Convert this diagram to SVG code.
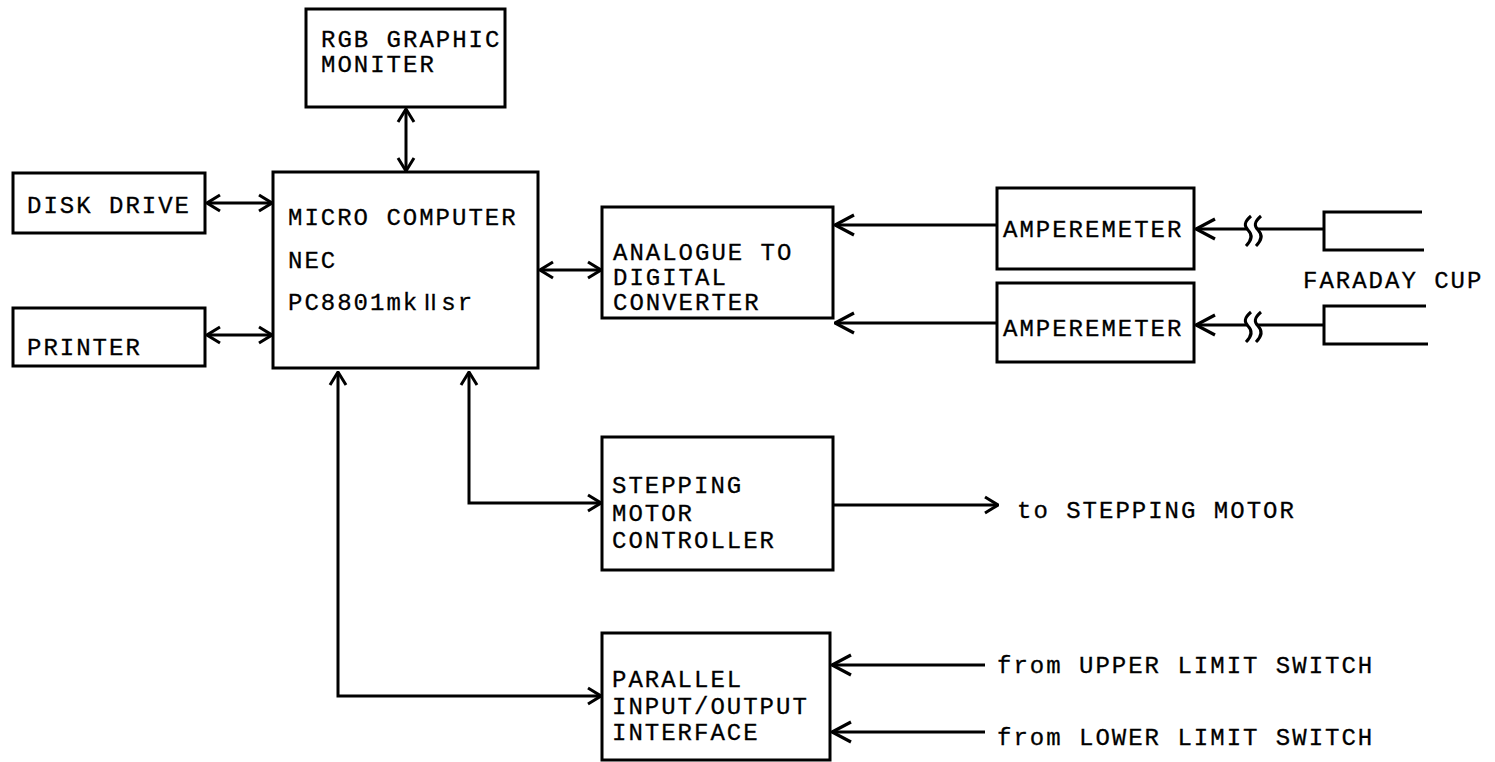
<svg xmlns="http://www.w3.org/2000/svg" width="1495" height="762" viewBox="0 0 1495 762">
<style>
.box{fill:#fff;stroke:#000;stroke-width:3}
.t{font-family:"Liberation Mono","DejaVu Sans Mono","Noto Sans CJK JP",monospace;font-size:24px;letter-spacing:2px;fill:#000;stroke:#000;stroke-width:0.3}
.r{font-family:"Noto Sans CJK JP","DejaVu Sans",sans-serif;font-size:22px;letter-spacing:0}
.c{fill:none;stroke:#000;stroke-width:3}
</style>
<defs>
<marker id="a" viewBox="0 0 16 20" refX="15" refY="10" markerWidth="16" markerHeight="20" markerUnits="userSpaceOnUse" orient="auto-start-reverse">
<path d="M2,2 L15,10 L2,18" fill="none" stroke="#000" stroke-width="3"/>
</marker>
<marker id="b" viewBox="0 0 22 24" refX="21" refY="12" markerWidth="22" markerHeight="24" markerUnits="userSpaceOnUse" orient="auto-start-reverse">
<path d="M2,2 L21,12 L2,22" fill="none" stroke="#000" stroke-width="3.2"/>
</marker>
</defs>

<g id="connectors">
<line class="c" x1="406" y1="109" x2="406" y2="171" marker-start="url(#a)" marker-end="url(#a)"/>
<line class="c" x1="207" y1="203" x2="272" y2="203" marker-start="url(#a)" marker-end="url(#a)"/>
<line class="c" x1="207" y1="335" x2="272" y2="335" marker-start="url(#a)" marker-end="url(#a)"/>
<line class="c" x1="540" y1="270" x2="601" y2="270" marker-start="url(#a)" marker-end="url(#a)"/>
<line class="c" x1="997" y1="225" x2="835" y2="225" marker-end="url(#b)"/>
<line class="c" x1="997" y1="323" x2="835" y2="323" marker-end="url(#b)"/>
<line class="c" x1="1247" y1="229" x2="1196" y2="229" marker-end="url(#b)"/>
<line class="c" x1="1258" y1="229" x2="1324" y2="229"/>
<line class="c" x1="1247" y1="325" x2="1196" y2="325" marker-end="url(#b)"/>
<line class="c" x1="1258" y1="325" x2="1324" y2="325"/>
<path class="c" d="M1251,216 C1244,222 1244,226 1248,230 C1253,235 1252,240 1246,246"/>
<path class="c" d="M1261,216 C1254,222 1254,226 1258,230 C1263,235 1262,240 1256,246"/>
<path class="c" d="M1251,312 C1244,318 1244,322 1248,326 C1253,331 1252,336 1246,342"/>
<path class="c" d="M1261,312 C1254,318 1254,322 1258,326 C1263,331 1262,336 1256,342"/>
<path class="c" d="M338,372 V696 H601" marker-start="url(#a)" marker-end="url(#a)"/>
<path class="c" d="M469,372 V503 H601" marker-start="url(#a)" marker-end="url(#a)"/>
<line class="c" x1="833" y1="505" x2="998" y2="505" marker-end="url(#a)"/>
<line class="c" x1="985" y1="665" x2="832" y2="665" marker-end="url(#b)"/>
<line class="c" x1="985" y1="732" x2="832" y2="732" marker-end="url(#b)"/>
</g>

<g id="rgb-monitor">
<rect class="box" x="306" y="9" width="199" height="98"/>
<text class="t" x="321" y="47">RGB GRAPHIC</text>
<text class="t" x="321" y="72">MONITER</text>
</g>
<g id="disk-drive">
<rect class="box" x="13" y="173" width="192" height="60"/>
<text class="t" x="27" y="213">DISK DRIVE</text>
</g>
<g id="printer">
<rect class="box" x="13" y="308" width="192" height="58"/>
<text class="t" x="27" y="355">PRINTER</text>
</g>
<g id="micro-computer">
<rect class="box" x="273" y="172" width="265" height="196"/>
<text class="t" x="288" y="225">MICRO COMPUTER</text>
<text class="t" x="288" y="268">NEC</text>
<text class="t" x="288" y="310">PC8801mk<tspan class="r">Ⅱ</tspan>sr</text>
</g>
<g id="adc">
<rect class="box" x="602" y="207" width="231" height="111"/>
<text class="t" x="613" y="260">ANALOGUE TO</text>
<text class="t" x="613" y="285">DIGITAL</text>
<text class="t" x="613" y="310">CONVERTER</text>
</g>
<g id="amperemeter-1">
<rect class="box" x="997" y="188" width="197" height="81"/>
<text class="t" x="1003" y="237">AMPEREMETER</text>
</g>
<g id="amperemeter-2">
<rect class="box" x="997" y="283" width="197" height="79"/>
<text class="t" x="1003" y="336">AMPEREMETER</text>
</g>
<g id="faraday-cup">
<polyline class="c" points="1422,212 1324,212 1324,250 1424,250"/>
<polyline class="c" points="1426,306 1324,306 1324,344 1428,344"/>
<text class="t" x="1303" y="288">FARADAY CUP</text>
</g>
<g id="stepping-controller">
<rect class="box" x="602" y="437" width="231" height="133"/>
<text class="t" x="612" y="493">STEPPING</text>
<text class="t" x="612" y="521">MOTOR</text>
<text class="t" x="612" y="548">CONTROLLER</text>
</g>
<text class="t" x="1017" y="518">to STEPPING MOTOR</text>
<g id="parallel-io">
<rect class="box" x="602" y="633" width="228" height="127"/>
<text class="t" x="612" y="687">PARALLEL</text>
<text class="t" x="612" y="714">INPUT/OUTPUT</text>
<text class="t" x="612" y="740">INTERFACE</text>
</g>
<text class="t" x="997" y="673">from UPPER LIMIT SWITCH</text>
<text class="t" x="997" y="745">from LOWER LIMIT SWITCH</text>
</svg>
